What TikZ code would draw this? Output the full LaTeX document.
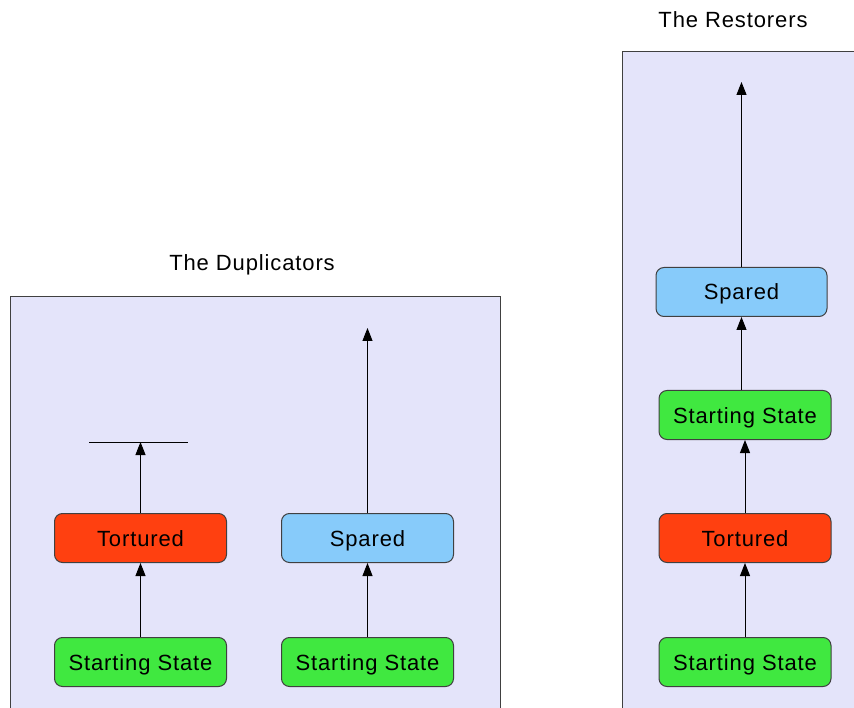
\documentclass[tikz,border=0pt]{standalone}
\usepackage{fontspec}
\setmainfont{Liberation Sans}[LetterSpace=4]
\usetikzlibrary{arrows.meta}
\definecolor{clusterbg}{HTML}{E4E4FA}
\definecolor{startgreen}{HTML}{40E840}
\definecolor{torturedred}{HTML}{FF4010}
\definecolor{sparedblue}{HTML}{87CBFA}
\definecolor{edgegray}{HTML}{404040}
\tikzset{
  statebox/.style={draw=edgegray, line width=1pt, rounded corners=8pt, minimum height=49pt,
    inner sep=0pt, text height=16pt, text depth=0pt, font=\fontsize{22}{25}\selectfont},
  startnode/.style={statebox, fill=startgreen, minimum width=172pt},
  torturednode/.style={statebox, fill=torturedred, minimum width=172pt},
  sparednode/.style={statebox, fill=sparedblue, minimum width=172pt},
  cluster/.style={draw=edgegray, line width=1pt, fill=clusterbg},
  flow/.style={draw=black, line width=1pt, -{Triangle[width=10pt,length=13pt]}},
  titletext/.style={font=\fontsize{22}{25}\selectfont, inner sep=0pt}
}
\begin{document}
\begin{tikzpicture}[x=1pt,y=-1pt]
\useasboundingbox (0,0) rectangle (854,708);
\clip (0,0) rectangle (854,708);
% clusters
\path[cluster] (10,297) rectangle (500,730);
\path[cluster] (622,52) rectangle (870,730);
\node[titletext] (dtitle) at (252,265) {The Duplicators};
\node[titletext] (rtitle) at (733,20) {The Restorers};
% Duplicators left
\node[startnode] (s1) at (140.5,662) {Starting State};
\node[torturednode] (t1) at (140.5,538) {Tortured};
\coordinate (e1) at (140.5,442);
\draw[line width=1pt] (89,442) -- (188,442);
\draw[flow] (s1) -- (t1);
\draw[flow] (t1) -- (e1);
% Duplicators right
\node[startnode] (s2) at (367.5,662) {Starting State};
\node[sparednode] (p2) at (367.5,538) {Spared};
\coordinate (e2) at (367.5,328);
\draw[flow] (s2) -- (p2);
\draw[flow] (p2) -- (e2);
% Restorers
\node[startnode] (s3) at (745,662) {Starting State};
\node[torturednode] (t3) at (745,538) {Tortured};
\node[startnode] (s4) at (745,415) {Starting State};
\node[sparednode, minimum width=171pt] (p3) at (741.5,292) {Spared};
\coordinate (e3) at (741.5,82);
\draw[flow] (s3) -- (t3);
\draw[flow] (t3) -- (s4);
\draw[flow] (s4.north -| p3) -- (p3);
\draw[flow] (p3) -- (e3);
\end{tikzpicture}
\end{document}
